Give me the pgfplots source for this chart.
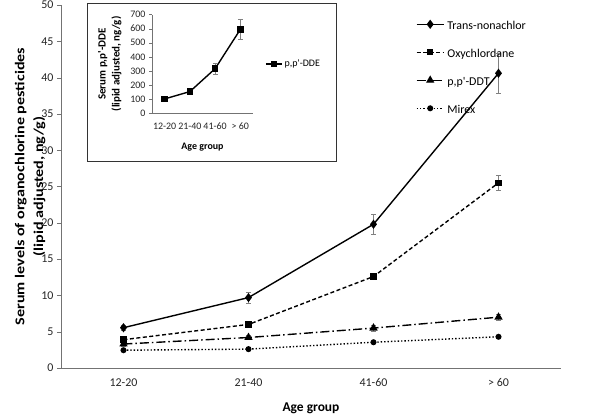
\documentclass[border=0pt]{standalone}
\usepackage{fontspec}
\setmainfont{Carlito}
\newfontfamily\widefont[FakeStretch=1.2]{Carlito}
\usepackage{pgfplots}
\pgfplotsset{compat=1.18}

\pgfplotsset{
  excel/.style={
    scale only axis,
    anchor=south west,
    axis lines*=left,
    axis line style={draw=black!55},
    tick align=outside,
    tick style={draw=black!55},
    major tick length=4bp,
    xmin=-0.5, xmax=3.5,
    xtick={0,1,2,3},
    x tick style={draw=none},
    extra x ticks={-0.5,0.5,1.5,2.5,3.5},
    extra x tick labels={},
    extra x tick style={tick style={draw=black!55}},
    xticklabels={12-20,21-40,41-60,{\textgreater{} 60}},
    /pgf/number format/assume math mode=true,
    ticklabel style={text=black!85},
    clip=false,
  },
  errs/.style={
    error bars/.cd, y dir=both, y explicit,
    error bar style={black!50, line width=0.5pt, solid},
    error mark options={rotate=90, black!50, mark size=2.5pt, line width=0.5pt, solid},
  },
}
\newcommand\legtxt[1]{\raisebox{-3bp}{#1}}

\begin{document}
\begin{tikzpicture}
\useasboundingbox (0,0) rectangle (600bp,415bp);

\begin{axis}[excel,
  at={(61bp,47bp)},
  width=500bp, height=363bp,
  ymin=0, ymax=50, ytick={0,5,...,50},
  font=\fontsize{12}{14}\selectfont,
  xticklabel style={yshift=-3bp},
  xlabel={Age group},
  xlabel style={font=\bfseries\fontsize{13.5}{15}\selectfont, yshift=-1bp},
  ylabel={Serum levels of organochlorine pesticides\\(lipid adjusted, ng/g)},
  ylabel style={align=center, font=\widefont\bfseries\fontsize{13.5}{19}\selectfont, yshift=-11bp},
  legend style={at={(0.71,0.962)}, anchor=north west, draw=none, fill=none,
    inner sep=0pt, outer sep=0pt, row sep=17bp, column sep=3bp,
    nodes={inner sep=0pt, text height=8bp, text depth=3bp},
    font=\fontsize{12}{14}\selectfont},
  legend cell align=left,
  legend image code/.code={\draw[mark repeat=2,mark phase=2,#1] plot coordinates {(0bp,0bp) (13.5bp,0bp) (27bp,0bp)};},
]
\addplot[black, line width=1.4pt, solid, mark=diamond*, mark size=3.5pt, mark options={solid, fill=black}, errs]
  coordinates {(0,5.55) +- (0,0.3) (1,9.7) +- (0,0.8) (2,19.8) +- (0,1.35) (3,40.6) +- (0,2.8)};
\addplot[black, line width=1.4pt, dash pattern=on 4pt off 2.5pt, mark=square*, mark size=2.5pt, mark options={solid, fill=black}, errs]
  coordinates {(0,3.9) +- (0,0.2) (1,6.0) +- (0,0.25) (2,12.6) +- (0,0.4) (3,25.5) +- (0,1.0)};
\addplot[black, line width=1.4pt, dash pattern=on 9pt off 3pt on 1.5pt off 3pt, mark=triangle*, mark size=3.5pt, mark options={solid, fill=black}, errs]
  coordinates {(0,3.3) +- (0,0.3) (1,4.2) +- (0,0.3) (2,5.5) +- (0,0.45) (3,7.0) +- (0,0.4)};
\addplot[black, line width=1.4pt, dotted, mark=*, mark size=2.3pt, mark options={solid, fill=black}, errs]
  coordinates {(0,2.45) +- (0,0.1) (1,2.6) +- (0,0.1) (2,3.55) +- (0,0.15) (3,4.3) +- (0,0.15)};
\legend{\legtxt{Trans-nonachlor},\legtxt{Oxychlordane},\legtxt{p,p\textquotesingle-DDT},\legtxt{Mirex}}
\end{axis}

\draw[fill=white, draw=black!80, line width=0.8pt] (87bp,254bp) rectangle (336bp,412bp);

\begin{axis}[excel,
  at={(152bp,301.5bp)},
  width=101bp, height=99bp,
  ymin=0, ymax=700, ytick={0,100,...,700},
  major tick length=3bp,
  font=\fontsize{10}{11}\selectfont,
  xticklabel style={inner xsep=0pt, yshift=-3bp},
  xlabel={Age group},
  xlabel style={font=\bfseries\fontsize{10}{11}\selectfont},
  ylabel={Serum p,p\textquotesingle-DDE\\(lipid adjusted, ng/g)},
  ylabel style={align=center, font=\bfseries\fontsize{11}{14}\selectfont, yshift=2bp},
  legend style={at={(1.09,0.5)}, anchor=west, draw=none, fill=none,
    font=\fontsize{10}{11}\selectfont},
  legend image code/.code={\draw[mark repeat=2,mark phase=2,#1] plot coordinates {(0bp,0bp) (8bp,0bp) (16bp,0bp)};},
]
\addplot[black, solid, line width=1.4pt, mark=square*, mark size=2.5pt, mark options={solid, fill=black}, errs]
  coordinates {(0,103) +- (0,8) (1,155) +- (0,10) (2,317) +- (0,40) (3,595) +- (0,70)};
\addlegendentry{p,p\textquotesingle-DDE}
\end{axis}
\end{tikzpicture}
\end{document}
